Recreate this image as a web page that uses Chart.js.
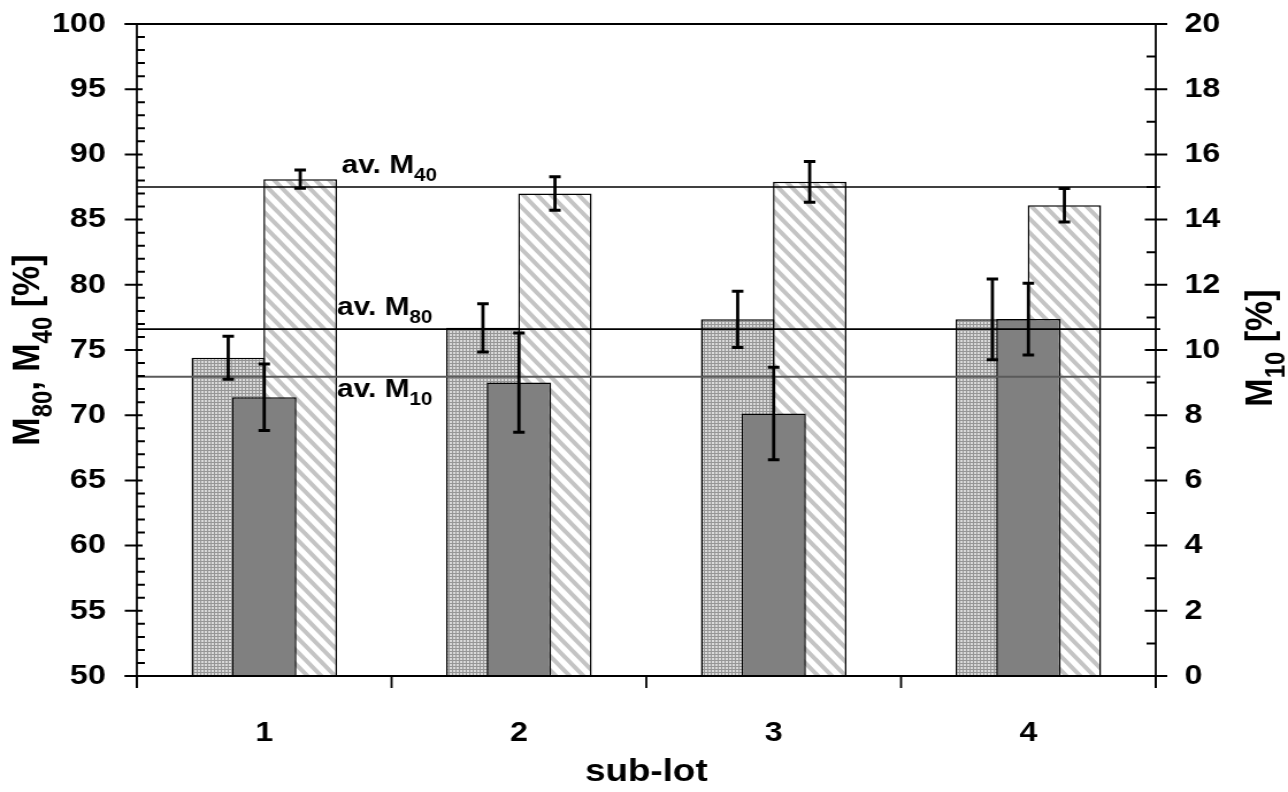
<!DOCTYPE html>
<html>
<head>
<meta charset="utf-8">
<script src="https://cdn.jsdelivr.net/npm/chart.js@4.4.0/dist/chart.umd.min.js"></script>
<style>
  html, body { margin: 0; padding: 0; background: #fff; }
  /* drawn narrow, shown wide: the figure is a horizontally stretched plot */
  #chart { display: block; width: 1288px; height: 792px; }
</style>
</head>
<body>
<canvas id="chart" width="1120" height="792" style="width:1288px;height:792px"></canvas>
<script>
// ===============================
// DATA
// ===============================
const subLots = ["1", "2", "3", "4"];

// left axis [%]
const m80 = [74.4, 76.7, 77.35, 77.35];
const m80Err = [1.65, 1.85, 2.15, 3.1];
const m40 = [88.1, 87.0, 87.9, 86.1];
const m40Err = [0.7, 1.28, 1.56, 1.28];

// right axis [%]
const m10 = [8.55, 9.0, 8.05, 10.95];
const m10Err = [1.02, 1.52, 1.42, 1.1];

// averages over all sub-lots
const avM80 = 76.6;
const avM40 = 87.5;
const avM10 = 9.18;

// axis ranges
const leftRange = [50, 100];
const leftStep = 5;
const rightRange = [0, 20];
const rightStep = 2;

const FONT = "'Liberation Sans', Arial, Helvetica, sans-serif";
const canvas = document.getElementById("chart");
const ctx0 = canvas.getContext("2d");


// ===============================
// FILL PATTERNS
// ===============================
function dotPattern(ctx) {
  const c = document.createElement("canvas");
  c.width = 3; c.height = 3;
  const g = c.getContext("2d");
  g.fillStyle = "#969696";
  g.fillRect(0, 0, 3, 3);
  g.fillStyle = "#dadada";
  g.fillRect(1, 1, 2, 2);
  return ctx.createPattern(c, "repeat");
}

function hatchPattern(ctx) {
  const w = 12, h = 14;
  const c = document.createElement("canvas");
  c.width = w; c.height = h;
  const g = c.getContext("2d");
  g.fillStyle = "#ffffff";
  g.fillRect(0, 0, w, h);
  g.strokeStyle = "#c4c4c4";
  g.lineWidth = 4;
  g.beginPath();
  for (const k of [-w, 0, w]) {
    g.moveTo(k - w, -h);
    g.lineTo(k + 2 * w, 2 * h);
  }
  g.stroke();
  return ctx.createPattern(c, "repeat");
}


// ===============================
// TEXT WITH SUBSCRIPTS
// parts alternate: normal, subscript, normal, ...
// ===============================
function drawRich(ctx, parts, x, y, size, align) {
  const subSize = Math.round(size * 0.7);
  const fontOf = i => `bold ${i % 2 ? subSize : size}px ${FONT}`;
  const widths = parts.map((p, i) => { ctx.font = fontOf(i); return ctx.measureText(p).width; });
  const total = widths.reduce((a, b) => a + b, 0);
  let cx = align === "center" ? x - total / 2 : x;
  ctx.textAlign = "left";
  ctx.textBaseline = "alphabetic";
  ctx.fillStyle = "#000";
  parts.forEach((p, i) => {
    ctx.font = fontOf(i);
    ctx.fillText(p, cx, i % 2 ? y + size * 0.31 : y);
    cx += widths[i];
  });
}


// ===============================
// OVERLAY: bar order, averages, error bars, axes
// ===============================
const overlay = {
  id: "overlay",

  beforeDatasetDraw(chart, args) {
    // M10 is painted last so it sits over both neighbours
    if (args.index === 1) return false;
  },

  afterDatasetsDraw(chart) {
    const ctx = chart.ctx;
    const { left, right, top, bottom } = chart.chartArea;
    const yL = chart.scales.y, yR = chart.scales.y1, x = chart.scales.x;

    chart.getDatasetMeta(1).controller.draw();

    ctx.save();

    // average lines
    const hline = (py, color, w) => {
      ctx.strokeStyle = color;
      ctx.lineWidth = w;
      ctx.beginPath();
      ctx.moveTo(left, py);
      ctx.lineTo(right + 4, py);
      ctx.stroke();
    };
    const pM40 = yL.getPixelForValue(avM40);
    const pM80 = yL.getPixelForValue(avM80);
    const pM10 = yR.getPixelForValue(avM10);
    hline(pM40, "#000", 1.6);
    hline(pM80, "#000", 1.6);
    hline(pM10, "#5a5a5a", 2.2);

    drawRich(ctx, ["av. M", "40"], 297, pM40 - 14, 26, "left");
    drawRich(ctx, ["av. M", "80"], 293, pM80 - 14, 26, "left");
    drawRich(ctx, ["av. M", "10"], 293, pM10 + 20, 26, "left");

    // error bars
    ctx.strokeStyle = "#000";
    chart.data.datasets.forEach((ds, i) => {
      const meta = chart.getDatasetMeta(i);
      const scale = chart.scales[meta.yAxisID];
      meta.data.forEach((bar, j) => {
        const v = ds.data[j], e = ds.errors[j];
        const yt = scale.getPixelForValue(v + e);
        const yb = scale.getPixelForValue(v - e);
        ctx.lineWidth = 2.8;
        ctx.beginPath();
        ctx.moveTo(bar.x, yt);
        ctx.lineTo(bar.x, yb);
        ctx.stroke();
        ctx.lineWidth = 3;
        ctx.beginPath();
        ctx.moveTo(bar.x - 5, yt);
        ctx.lineTo(bar.x + 5, yt);
        ctx.moveTo(bar.x - 5, yb);
        ctx.lineTo(bar.x + 5, yb);
        ctx.stroke();
      });
    });

    // frame and axes
    ctx.strokeStyle = "#000";
    ctx.lineWidth = 2;
    ctx.beginPath();
    ctx.moveTo(left - 10.5, top);
    ctx.lineTo(right + 10, top);
    ctx.moveTo(left - 10.5, bottom);
    ctx.lineTo(right, bottom);
    ctx.stroke();

    ctx.lineWidth = 1.8;
    ctx.beginPath();
    ctx.moveTo(left, top);
    ctx.lineTo(left, bottom + 12);
    ctx.moveTo(right, top);
    ctx.lineTo(right, bottom + 12);
    ctx.stroke();

    // left ticks, minor every 1 %
    ctx.lineWidth = 2;
    ctx.beginPath();
    for (let v = leftRange[0]; v <= leftRange[1]; v++) {
      const py = yL.getPixelForValue(v);
      if (v % leftStep === 0) {
        ctx.moveTo(left - 10.5, py);
        ctx.lineTo(left + 5, py);
      } else {
        ctx.moveTo(left, py);
        ctx.lineTo(left + 7, py);
      }
    }
    // right ticks, minor every 1 %
    for (let v = rightRange[0]; v <= rightRange[1]; v++) {
      const py = yR.getPixelForValue(v);
      if (v % rightStep === 0) {
        ctx.moveTo(right - 9.5, py);
        ctx.lineTo(right + 10, py);
      } else {
        ctx.moveTo(right - 8, py);
        ctx.lineTo(right, py);
      }
    }
    ctx.stroke();

    // category boundaries on the x axis
    ctx.lineWidth = 1.8;
    ctx.beginPath();
    for (let i = 0; i <= subLots.length; i++) {
      const px = x.getPixelForValue(i - 0.5);
      ctx.moveTo(px, bottom);
      ctx.lineTo(px, bottom + 12);
    }
    ctx.stroke();

    // axis titles
    const cy = (top + bottom) / 2;
    ctx.translate(34, cy);
    ctx.rotate(-Math.PI / 2);
    drawRich(ctx, ["M", "80", ", M", "40", " [%]"], 0, 0, 34, "center");
    ctx.setTransform(1, 0, 0, 1, 0, 0);
    ctx.translate(1106, cy - 2);
    ctx.rotate(-Math.PI / 2);
    drawRich(ctx, ["M", "10", " [%]"], 0, 0, 34, "center");

    ctx.restore();
  }
};


// ===============================
// CHART
// ===============================
const dots = dotPattern(ctx0);
const hatch = hatchPattern(ctx0);
const tickFont = { family: FONT, size: 28, weight: "bold" };
const slot = 0.424;

new Chart(canvas, {
  type: "bar",
  data: {
    labels: subLots,
    datasets: [
      {
        label: "M80", data: m80, errors: m80Err, yAxisID: "y",
        backgroundColor: dots, borderColor: "#000", borderWidth: 1.5,
        categoryPercentage: slot, barPercentage: 2.04
      },
      {
        label: "M10", data: m10, errors: m10Err, yAxisID: "y1",
        backgroundColor: "#808080", borderColor: "#000", borderWidth: 1.5,
        categoryPercentage: slot, barPercentage: 1.79
      },
      {
        label: "M40", data: m40, errors: m40Err, yAxisID: "y",
        backgroundColor: hatch, borderColor: "#000", borderWidth: 1.5,
        categoryPercentage: slot, barPercentage: 2.04
      }
    ]
  },
  options: {
    responsive: false,
    animation: false,
    devicePixelRatio: 1,
    layout: { padding: { top: 24, left: 0, right: 0, bottom: 0 } },
    plugins: { legend: { display: false }, tooltip: { enabled: false } },
    scales: {
      x: {
        offset: true,
        grid: { display: false, drawTicks: false },
        border: { display: false },
        ticks: { color: "#000", font: tickFont, padding: 40 },
        title: {
          display: true, text: "sub-lot", color: "#000",
          font: { family: FONT, size: 32, weight: "bold" },
          padding: { top: 0, bottom: 1 }
        },
        afterFit(s) { s.height = 116; }
      },
      y: {
        position: "left",
        min: leftRange[0], max: leftRange[1],
        // gap to the labels comes from the (hidden) tick length
        grid: { display: false, drawTicks: true, tickLength: 27 },
        border: { display: false },
        ticks: { stepSize: leftStep, color: "#000", font: tickFont, padding: 0 },
        afterFit(s) { s.width = 119; }
      },
      y1: {
        position: "right",
        min: rightRange[0], max: rightRange[1],
        grid: { display: false, drawTicks: true, tickLength: 25 },
        border: { display: false },
        ticks: { stepSize: rightStep, color: "#000", font: tickFont, padding: 0 },
        afterFit(s) { s.width = 115; }
      }
    }
  },
  plugins: [overlay]
});
</script>
</body>
</html>
